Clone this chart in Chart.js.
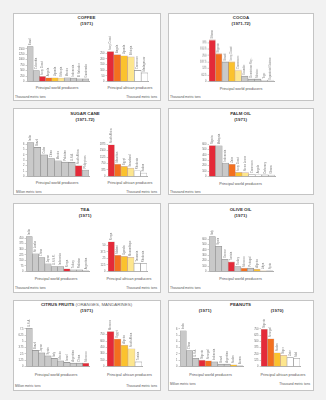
<!DOCTYPE html>
<html><head><meta charset="utf-8">
<script src="https://cdn.jsdelivr.net/npm/chart.js@4.4.0/dist/chart.umd.min.js"></script>
<style>
html,body{margin:0;padding:0;background:#f2f2f2;width:326px;height:400px;overflow:hidden;font-family:"Liberation Sans",Arial,sans-serif;}
.panel{position:absolute;background:#fff;border:1px solid #c4c4c4;box-sizing:border-box;}
.t{position:absolute;white-space:nowrap;line-height:1;}
canvas{position:absolute;}
</style></head><body>
<script>
// ---------- DATA ----------
// African rank: 0 = non-African producer, 1.. = rank among African producers
const coffeeWorldNames = ['Brazil','Colombia','Ivory Coast','Angola','Uganda','Ethiopia','Mexico','Indonesia','El Salvador','Guatemala'];
const coffeeWorldValues = [1600, 500, 230, 170, 170, 160, 165, 160, 125, 115];
const coffeeWorldRank = [0,0,1,2,3,4,0,0,0,0];
const coffeeWorldTicks = [0,250,500,750,1000,1250,1500];

const coffeeAfricaNames = ['Ivory Coast','Angola','Uganda','Ethiopia','Cameroon','Madagascar'];
const coffeeAfricaValues = [265, 238, 228, 218, 98, 76];
const coffeeAfricaTicks = [0,50,100,150,200,250];

const cocoaNames = ['Ghana','Nigeria','Brazil','Ivory Coast','Cameroon','Ecuador','Dominican Rep.','Mexico','Togo','Equatorial Guinea'];
const cocoaValues = [400, 268, 188, 188, 107, 50, 22, 22, 12, 5];
const cocoaRank = [1,2,0,3,4,0,0,0,5,6];
const cocoaTicks = [0,62.5,125,187.5,250,312.5,375];

const sugarWorldNames = ['India','Brazil','Cuba','China','Mexico','Pakistan','U.S.A.','South Africa','Philippines'];
const sugarWorldValues = [6.3, 5.4, 4.0, 3.3, 2.9, 2.65, 2.6, 2.0, 1.2];
const sugarWorldRank = [0,0,0,0,0,0,0,1,0];
const sugarWorldTicks = [0,1,2,3,4,5,6];

const sugarAfricaNames = ['South Africa','Mauritius','Egypt','Swaziland','Rhodesia','Sudan'];
const sugarAfricaValues = [1840, 715, 580, 480, 330, 195];
const sugarAfricaTicks = [0,375,750,1125,1500,1875];

const palmNames = ['Nigeria','Malaysia','Indonesia','Zaire','Ivory Coast','Sierra Leone','Cameroon','Angola','Dahomey','Ghana'];
const palmValues = [575, 570, 250, 225, 75, 70, 35, 30, 28, 25];
const palmRank = [1,0,0,2,3,4,5,6,7,8];
const palmTicks = [0,100,200,300,400,500,600];

const teaWorldNames = ['India','Sri Lanka','China','Japan','U.S.S.R.','Indonesia','Kenya','Turkey','Pakistan','Argentina'];
const teaWorldValues = [472, 238, 189, 103, 67, 67, 36, 22, 22, 9];
const teaWorldRank = [0,0,0,0,0,0,1,0,0,0];
const teaWorldTicks = [0,75,150,225,300,375,450];

const teaAfricaNames = ['Kenya','Malawi','Uganda','Mozambique','Tanzania','Rhodesia'];
const teaAfricaValues = [57, 31, 29, 27, 16, 15];
const teaAfricaTicks = [0,12.5,25,37.5,50];

const oliveNames = ['Italy','Spain','Greece','Tunisia','Turkey','Morocco','Portugal','Algeria','Libya','Syria'];
const oliveValues = [648, 467, 224, 176, 91, 61, 61, 42, 12, 12];
const oliveRank = [0,0,0,1,0,2,0,3,4,0];
const oliveTicks = [0,100,200,300,400,500,600];

const citrusWorldNames = ['U.S.A.','Brazil','Japan','Spain','Italy','Mexico','Israel','Argentina','China','Morocco'];
const citrusWorldValues = [7.6, 3.2, 2.7, 2.1, 1.6, 1.1, 0.8, 0.65, 0.65, 0.65];
const citrusWorldRank = [0,0,0,0,0,0,0,0,0,1];
const citrusWorldTicks = [0,1.25,2.5,3.75,5,6.25,7.5];

const citrusAfricaNames = ['Morocco','Egypt','Algeria','South Africa','Tunisia'];
const citrusAfricaValues = [827, 649, 503, 417, 108];
const citrusAfricaTicks = [0,150,300,450,600,750];

const peanutWorldNames = ['India','China','U.S.A.','Nigeria','Senegal','Indonesia','Brazil','Argentina','Sudan','Burma'];
const peanutWorldValues = [5.7, 2.55, 1.3, 1.0, 0.9, 0.73, 0.36, 0.36, 0.26, 0.1];
const peanutWorldRank = [0,0,0,1,2,0,0,0,3,0];
const peanutWorldTicks = [0,1,2,3,4,5,6];

const peanutAfricaNames = ['Nigeria','Senegal','Sudan','Niger','Zaire','Mali'];
const peanutAfricaValues = [742, 553, 273, 221, 176, 163];
const peanutAfricaTicks = [0,125,250,375,500,625,750];

// ---------- STYLE / LAYOUT ----------
const FONT = '"Liberation Sans", Arial, sans-serif';
const PAL = ['#c9c9c9','#e42a39','#f3701f','#fbc22d','#fde68e','#ffffff'];
const seqRank = n => Array.from({length:n},(_, i)=>i+1);

function txt(parent, s, x, y, size, opts){
  opts = opts || {};
  const d = document.createElement('div');
  d.className = 't';
  d.innerHTML = s;
  d.style.fontSize = size + 'px';
  d.style.color = opts.color || '#555';
  if (opts.bold) d.style.fontWeight = 'bold';
  d.style.top = y + 'px';
  const a = opts.align || 'c';
  if (a === 'c') { d.style.left = x + 'px'; d.style.transform = 'translate(-50%,-50%)'; }
  else if (a === 'l') { d.style.left = x + 'px'; d.style.transform = 'translate(0,-50%)'; }
  else { d.style.right = (326 - x) + 'px'; d.style.transform = 'translate(0,-50%)'; }
  document.body.appendChild(d);
}
function panel(x, y, w, h){
  const d = document.createElement('div');
  d.className = 'panel';
  Object.assign(d.style, {left:x+'px', top:y+'px', width:w+'px', height:h+'px'});
  document.body.appendChild(d);
}

const namePlugin = {
  id: 'barNames',
  afterDatasetsDraw(chart){
    const ctx = chart.ctx, meta = chart.getDatasetMeta(0);
    ctx.save();
    ctx.fillStyle = '#7a7a7a';
    ctx.font = '2.7px ' + FONT;
    ctx.textBaseline = 'middle';
    ctx.textAlign = 'left';
    meta.data.forEach((el, i) => {
      ctx.save();
      ctx.translate(el.x, el.y - 1.5);
      ctx.rotate(-Math.PI/2);
      ctx.fillText(chart.data.labels[i], 0, 0);
      ctx.restore();
    });
    ctx.restore();
  }
};

function barChart(names, values, ranks, ticks, L){
  const padT = 16, padB = 2, padR = 2;
  const yw = L.xL - L.x0;
  const W = L.xR - L.x0 + padR;
  const H = (L.yB - L.top) + padT + padB;
  const max = ticks[ticks.length-1] * (L.yB - L.top) / (L.yB - L.yT);
  const c = document.createElement('canvas');
  c.width = W; c.height = H;
  c.style.left = L.x0 + 'px'; c.style.top = (L.top - padT) + 'px';
  c.style.width = W + 'px'; c.style.height = H + 'px';
  document.body.appendChild(c);
  const bg = ranks.map(r => PAL[Math.min(r,5)]);
  const bd = ranks.map(r => (r === 0 || r >= 5) ? '#8d8d8d' : 'rgba(120,40,20,0.35)');
  new Chart(c, {
    type: 'bar',
    data: { labels: names, datasets: [{ data: values, backgroundColor: bg, borderColor: bd, borderWidth: 0.6, categoryPercentage: 1, barPercentage: 1 }] },
    options: {
      responsive: false, animation: false, devicePixelRatio: 1,
      layout: { padding: { top: padT, bottom: padB, left: 0, right: padR } },
      plugins: { legend: { display: false }, tooltip: { enabled: false } },
      scales: {
        x: { grid: { display: false }, ticks: { display: false }, border: { display: true, color: '#8a8a8a', width: 0.7 },
             afterFit: s => { s.height = 0; } },
        y: { min: 0, max: max,
             afterFit: s => { s.width = yw; },
             afterBuildTicks: s => { s.ticks = ticks.map(v => ({ value: v })); },
             ticks: { autoSkip: false, font: { size: 2.6, family: FONT }, color: '#666', padding: 1, callback: v => String(v) },
             grid: { drawOnChartArea: false, drawTicks: true, tickLength: 1.5, color: '#999', lineWidth: 0.5 },
             border: { display: false } }
      }
    },
    plugins: [namePlugin]
  });
}

// ---------- PANELS ----------
panel(13, 13, 148, 88);
panel(168, 13, 146, 88);
panel(13, 108, 148, 87);
panel(168, 108, 146, 87);
panel(13, 203, 148, 90);
panel(168, 203, 146, 90);
panel(13, 300, 148, 91);
panel(168, 300, 146, 91);

const TS = 4.4, SS = 3.8, US = 3.2, TC = '#333';

// Coffee
txt(null, 'COFFEE', 86.5, 17.5, TS, {bold:true, color:TC});
txt(null, '(1971)', 86.5, 24, TS, {bold:true, color:TC});
barChart(coffeeWorldNames, coffeeWorldValues, coffeeWorldRank, coffeeWorldTicks, {x0:15, xL:27, xR:89, top:33, yB:82, yT:49});
barChart(coffeeAfricaNames, coffeeAfricaValues, seqRank(6), coffeeAfricaTicks, {x0:98, xL:107, xR:148, top:33, yB:82, yT:53.5});
txt(null, 'Principal world producers', 57, 89, SS);
txt(null, 'Principal african producers', 130, 89, SS);
txt(null, 'Thousand metric tons', 15, 97.5, US, {align:'l'});
txt(null, 'Thousand metric tons', 157, 97.5, US, {align:'r'});

// Cocoa
txt(null, 'COCOA', 241, 17.5, TS, {bold:true, color:TC});
txt(null, '(1971-72)', 241, 24, TS, {bold:true, color:TC});
barChart(cocoaNames, cocoaValues, cocoaRank, cocoaTicks, {x0:196, xL:209, xR:274, top:30, yB:81.5, yT:42.5});
txt(null, 'Principal world producers', 241, 89.5, SS);
txt(null, 'Thousand metric tons', 170, 97.5, US, {align:'l'});

// Sugar cane
txt(null, 'SUGAR CANE', 85, 113.5, TS, {bold:true, color:TC});
txt(null, '(1971-72)', 85, 120, TS, {bold:true, color:TC});
barChart(sugarWorldNames, sugarWorldValues, sugarWorldRank, sugarWorldTicks, {x0:17, xL:27, xR:89, top:130, yB:177, yT:144.3});
barChart(sugarAfricaNames, sugarAfricaValues, seqRank(6), sugarAfricaTicks, {x0:98, xL:108, xR:147, top:130, yB:177, yT:144.3});
txt(null, 'Principal world producers', 57, 184.3, SS);
txt(null, 'Principal african producers', 130, 184.3, SS);
txt(null, 'Million metric tons', 16, 193, US, {align:'l'});
txt(null, 'Thousand metric tons', 157, 193, US, {align:'r'});

// Palm oil
txt(null, 'PALM OIL', 240.5, 113.5, TS, {bold:true, color:TC});
txt(null, '(1971)', 240.5, 120, TS, {bold:true, color:TC});
barChart(palmNames, palmValues, palmRank, palmTicks, {x0:199, xL:209, xR:275, top:130, yB:177, yT:144.3});
txt(null, 'Principal world producers', 240.5, 185, SS);
txt(null, 'Thousand metric tons', 170, 192.7, US, {align:'l'});

// Tea
txt(null, 'TEA', 85, 210, TS, {bold:true, color:TC});
txt(null, '(1971)', 85, 216, TS, {bold:true, color:TC});
barChart(teaWorldNames, teaWorldValues, teaWorldRank, teaWorldTicks, {x0:17, xL:26, xR:89, top:226, yB:272, yT:238.3});
barChart(teaAfricaNames, teaAfricaValues, seqRank(6), teaAfricaTicks, {x0:98, xL:108, xR:147, top:226, yB:272, yT:245.7});
txt(null, 'Principal world producers', 56, 280, SS);
txt(null, 'Principal african producers', 129, 280, SS);
txt(null, 'Thousand metric tons', 15, 289.3, US, {align:'l'});
txt(null, 'Thousand metric tons', 157, 289.3, US, {align:'r'});

// Olive oil
txt(null, 'OLIVE OIL', 240.5, 210, TS, {bold:true, color:TC});
txt(null, '(1971)', 240.5, 216, TS, {bold:true, color:TC});
barChart(oliveNames, oliveValues, oliveRank, oliveTicks, {x0:199, xL:209, xR:273, top:226, yB:272.3, yT:239.3});
txt(null, 'Principal world producers', 240.5, 280, SS);
txt(null, 'Thousand metric tons', 170, 289, US, {align:'l'});

// Citrus
txt(null, '<b style="color:#333">CITRUS FRUITS</b> (ORANGES, MANDARINES)', 86.5, 305, TS, {color:'#666'});
txt(null, '(1971)', 86.5, 311, TS, {bold:true, color:TC});
barChart(citrusWorldNames, citrusWorldValues, citrusWorldRank, citrusWorldTicks, {x0:16, xL:26, xR:89, top:320, yB:367.3, yT:329});
barChart(citrusAfricaNames, citrusAfricaValues, seqRank(5), citrusAfricaTicks, {x0:98, xL:107, xR:142, top:320, yB:367.3, yT:335});
txt(null, 'Principal world producers', 56, 376, SS);
txt(null, 'Principal african producers', 129.5, 376, SS);
txt(null, 'Million metric tons', 15, 387.3, US, {align:'l'});
txt(null, 'Thousand metric tons', 157, 387.3, US, {align:'r'});

// Peanuts
txt(null, 'PEANUTS', 240.5, 305, TS, {bold:true, color:TC});
txt(null, '(1971)', 205, 311, TS, {bold:true, color:TC});
txt(null, '(1970)', 277, 311, TS, {bold:true, color:TC});
barChart(peanutWorldNames, peanutWorldValues, peanutWorldRank, peanutWorldTicks, {x0:171, xL:180, xR:243, top:320, yB:367.3, yT:329});
barChart(peanutAfricaNames, peanutAfricaValues, seqRank(6), peanutAfricaTicks, {x0:252, xL:261, xR:300, top:320, yB:367.3, yT:329});
txt(null, 'Principal world producers', 210.5, 376, SS);
txt(null, 'Principal african producers', 283, 376, SS);
txt(null, 'Million metric tons', 170, 384.5, US, {align:'l'});
txt(null, 'Thousand metric tons', 310, 384.5, US, {align:'r'});
</script>
</body></html>
